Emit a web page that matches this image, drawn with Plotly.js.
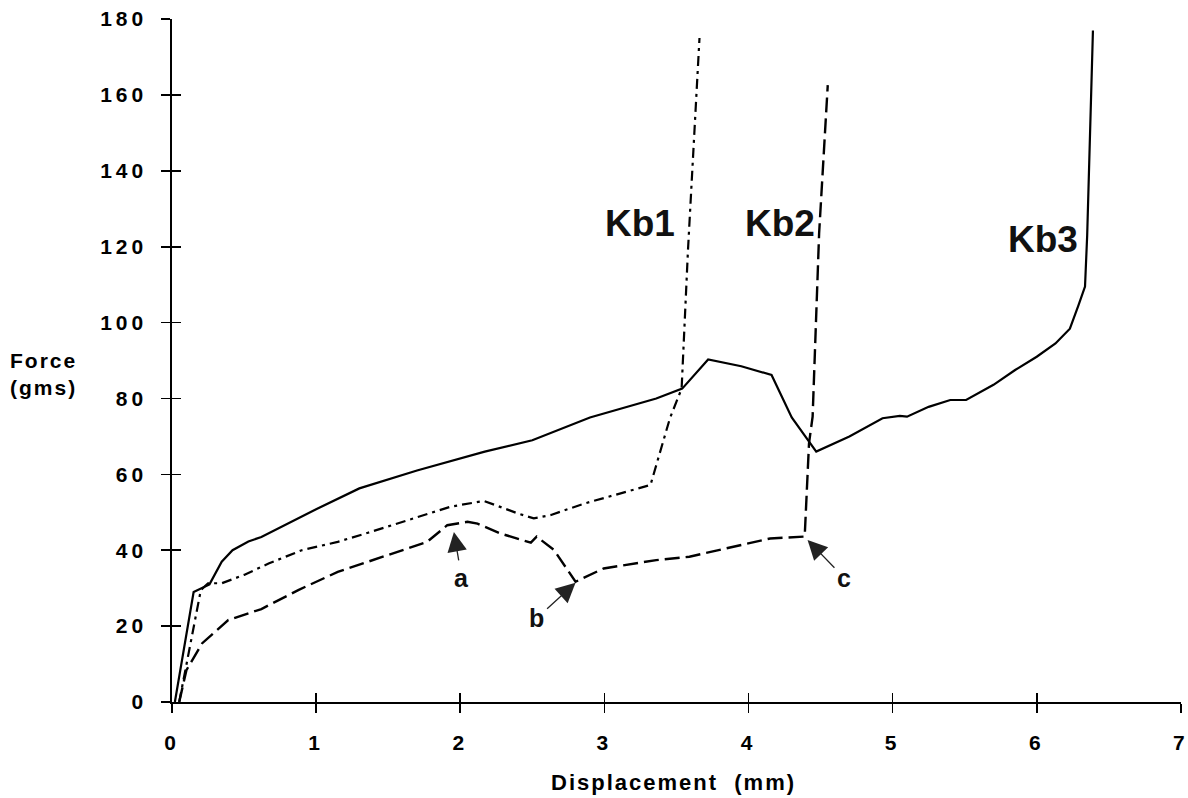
<!DOCTYPE html>
<html>
<head>
<meta charset="utf-8">
<script src="https://cdn.plot.ly/plotly-3.0.1.min.js"></script>
<style>
html,body{margin:0;padding:0;background:#fff;}
#chart{width:1188px;height:798px;}
#chart .xtick text, #chart .ytick text { letter-spacing: 4px; }
#chart .annotation-text.spaced { letter-spacing: 2px; }
</style>
</head>
<body>
<div id="chart"></div>
<script>
// Kb3 (solid)
const kb3X = [0.02, 0.15, 0.26, 0.345, 0.42, 0.53, 0.62, 0.78, 1.0, 1.3, 1.7, 2.17, 2.5, 2.9, 3.36, 3.54, 3.72, 3.95, 4.16, 4.30, 4.47, 4.7, 4.93, 5.05, 5.1, 5.25, 5.4, 5.51, 5.7, 5.85, 6.0, 6.13, 6.23, 6.29, 6.335, 6.35, 6.37, 6.39];
const kb3Y = [0, 29, 31, 37, 40, 42.3, 43.5, 46.6, 50.8, 56.3, 61, 66, 69, 75, 80, 82.6, 90.3, 88.5, 86.2, 75, 66, 70, 74.8, 75.4, 75.2, 77.8, 79.6, 79.6, 83.6, 87.5, 91, 94.5, 98.4, 104.6, 109.5, 123, 150, 177];
// Kb1 (dash-dot)
const kb1X = [0.05, 0.2, 0.25, 0.345, 0.5, 0.67, 0.9, 1.15, 1.36, 1.7, 1.935, 2.165, 2.4, 2.51, 2.63, 2.86, 3.32, 3.455, 3.536, 3.58, 3.64, 3.66];
const kb1Y = [0, 29.5, 31.3, 31.3, 33.5, 36.5, 40, 42.2, 44.6, 48.8, 51.5, 53, 49.7, 48.4, 49.3, 52.3, 57.2, 74.8, 82.6, 119, 158.7, 175];
// Kb2 (dashed)
const kb2X = [0.05, 0.1, 0.21, 0.39, 0.62, 0.876, 1.15, 1.47, 1.77, 1.91, 2.05, 2.12, 2.28, 2.49, 2.53, 2.65, 2.80, 2.995, 3.36, 3.59, 4.01, 4.15, 4.39, 4.42, 4.445, 4.49, 4.55];
const kb2Y = [0, 8.4, 15.5, 21.6, 24.5, 29.5, 34.3, 38.3, 42.2, 46.6, 47.5, 47, 44.4, 42, 43.6, 40.1, 31.7, 35.2, 37.4, 38.3, 41.8, 43.1, 43.6, 68.2, 75.2, 123.5, 162.6];

const curveLabels = ["Kb1", "Kb2", "Kb3"];
const curveLabelX = [3.25, 4.22, 6.04];
const curveLabelY = [126, 126, 122];

const pointLabels = ["a", "b", "c"];
const pointTipX = [1.956, 2.80, 4.41];
const pointTipY = [44.8, 31.4, 42.7];
const pointTextX = [2.01, 2.53, 4.665];
const pointTextY = [32.7, 22.1, 32.7];

const xTicks = [0, 1, 2, 3, 4, 5, 6, 7];
const yTicks = [0, 20, 40, 60, 80, 100, 120, 140, 160, 180];

const FONT = "'Liberation Sans', Arial, Helvetica, sans-serif";

const traces = [
  {x: kb3X, y: kb3Y, mode: 'lines', line: {color: '#000', width: 2.2}, hoverinfo: 'skip'},
  {x: kb1X, y: kb1Y, mode: 'lines', line: {color: '#000', width: 2.2, dash: '10px,5px,3px,5px'}, hoverinfo: 'skip'},
  {x: kb2X, y: kb2Y, mode: 'lines', line: {color: '#000', width: 2.4, dash: '15px,6px'}, hoverinfo: 'skip'},
  {x: [null], y: [null], xaxis: 'x2', yaxis: 'y2', mode: 'lines', hoverinfo: 'skip'}
];

const annotations = [];
curveLabels.forEach((t, i) => annotations.push({
  x: curveLabelX[i], y: curveLabelY[i], xref: 'x', yref: 'y', text: '<b>' + t + '</b>',
  showarrow: false, font: {family: FONT, size: 37, color: '#111'}, xanchor: 'center', yanchor: 'middle'
}));
pointLabels.forEach((t, i) => annotations.push({
  x: pointTipX[i], y: pointTipY[i], ax: pointTextX[i], ay: pointTextY[i], axref: 'x', ayref: 'y',
  xref: 'x', yref: 'y', text: '<b>' + t + '</b>', showarrow: true, arrowhead: 2, arrowsize: 3,
  arrowwidth: 1.3, arrowcolor: '#222', standoff: 0, startstandoff: 2,
  font: {family: FONT, size: 25, color: '#111'}
}));
annotations.push({
  x: -0.163, y: 0.480, xref: 'paper', yref: 'paper', xanchor: 'left', yanchor: 'middle', align: 'left',
  text: '<b>Force<br>(gms)</b>', showarrow: false, font: {family: FONT, size: 21, color: '#000'}
});
annotations.push({
  x: 0.497, y: -0.118, xref: 'paper', yref: 'paper', xanchor: 'center', yanchor: 'middle',
  text: '<b>Displacement  (mm)</b>', showarrow: false, font: {family: FONT, size: 22, color: '#000'}
});

const layout = {
  width: 1188, height: 798,
  margin: {l: 172, r: 7, t: 19, b: 96},
  paper_bgcolor: '#fff', plot_bgcolor: '#fff',
  showlegend: false,
  xaxis: {range: [0, 7.001], tickvals: xTicks, ticktext: xTicks.map(String), ticks: 'outside', ticklen: 9, tickwidth: 1.6,
    tickcolor: '#000', showline: true, linecolor: '#000', linewidth: 1.6, showgrid: false, zeroline: false,
    ticklabeloverflow: 'allow',
    tickfont: {family: FONT, size: 21, color: '#000', weight: 'bold'}, ticklabelstandoff: 12, fixedrange: true},
  yaxis: {range: [0, 180.02], tickvals: yTicks, ticktext: yTicks.map(String), ticks: 'outside', ticklen: 9, tickwidth: 1.6,
    tickcolor: '#000', showline: true, linecolor: '#000', linewidth: 1.6, showgrid: false, zeroline: false,
    ticklabeloverflow: 'allow',
    tickfont: {family: FONT, size: 21, color: '#000', weight: 'bold'}, ticklabelstandoff: 10, fixedrange: true},
  xaxis2: {range: [0, 7.001], overlaying: 'x', anchor: 'y2', side: 'bottom', tickvals: xTicks, ticks: 'inside', ticklen: 9,
    tickwidth: 1.6, tickcolor: '#000', showticklabels: false, showline: false, showgrid: false, zeroline: false},
  yaxis2: {range: [0, 180.02], overlaying: 'y', anchor: 'x2', side: 'left', tickvals: yTicks, ticks: 'inside', ticklen: 9,
    tickwidth: 1.6, tickcolor: '#000', showticklabels: false, showline: false, showgrid: false, zeroline: false},
  annotations: annotations
};

Plotly.newPlot('chart', traces, layout, {staticPlot: true, displayModeBar: false}).then(gd => {
  // wider letter spacing for the axis titles (drawn as annotations)
  gd.querySelectorAll('.annotation-text').forEach(el => {
    const t = el.textContent;
    if (t.indexOf('Force') === 0 || t.indexOf('Displacement') === 0) el.style.letterSpacing = '2px';
  });
});
</script>
</body>
</html>
